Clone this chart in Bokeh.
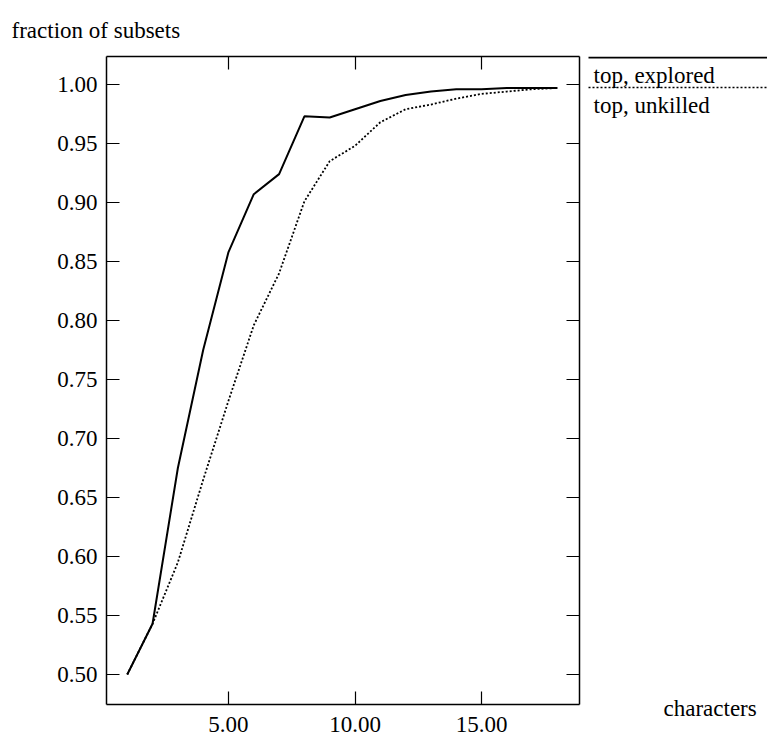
from bokeh.plotting import figure
from bokeh.models import (LinearAxis, FixedTicker, NumeralTickFormatter, Range1d,
                          Label)
from bokeh.core.properties import value
from bokeh.layouts import row
from bokeh.embed import file_html
from bokeh.resources import INLINE

# ---- data ----
characters = [1, 2, 3, 4, 5, 6, 7, 8, 9, 10, 11, 12, 13, 14, 15, 16, 17, 18]
top_explored = [0.500, 0.543, 0.675, 0.775, 0.858, 0.907, 0.924, 0.973, 0.972,
                0.979, 0.986, 0.991, 0.994, 0.996, 0.996, 0.997, 0.997, 0.997]
top_unkilled = [0.500, 0.543, 0.595, 0.665, 0.732, 0.796, 0.840, 0.901, 0.935,
                0.948, 0.968, 0.979, 0.983, 0.988, 0.992, 0.994, 0.996, 0.997]
x_ticks = [5, 10, 15]
y_ticks = [0.50, 0.55, 0.60, 0.65, 0.70, 0.75, 0.80, 0.85, 0.90, 0.95, 1.00]
series_labels = ["top, explored", "top, unkilled"]
x_title = "characters"
y_title = "fraction of subsets"

FONT = "Liberation Serif"
FS = "23px"
W, H = 767, 738
W1 = 585                     # main plot width (frame right edge at 579)
F_TOP, F_BOT = 56, 704       # frame top / bottom in page pixels

p = figure(width=W1, height=H, output_backend="svg", toolbar_location=None,
           x_axis_location=None, y_axis_location=None,
           x_range=Range1d(0.18, 18.87), y_range=Range1d(0.4746, 1.0237),
           min_border_left=106, min_border_right=W1 - 579,
           min_border_top=F_TOP, min_border_bottom=H - F_BOT)
p.grid.visible = False
p.outline_line_color = None
p.background_fill_color = "white"
p.border_fill_color = "white"


def make_axis(ticks, labels):
    ax = LinearAxis(ticker=FixedTicker(ticks=ticks),
                    formatter=NumeralTickFormatter(format="0.00"))
    ax.major_tick_in = 13
    ax.major_tick_out = 0
    ax.minor_tick_line_color = None
    ax.axis_line_color = "black"
    ax.axis_line_width = 1.5
    ax.major_tick_line_color = "black"
    ax.major_tick_line_width = 1.2
    ax.major_label_text_font = FONT
    if labels:
        ax.major_label_text_font_size = FS
        ax.major_label_text_color = "black"
    else:
        ax.major_label_text_font_size = "1px"
        ax.major_label_text_color = None
        ax.major_label_standoff = 0
    return ax


left = make_axis(y_ticks, True)
left.major_label_standoff = 9
bottom = make_axis(x_ticks, True)
bottom.major_label_standoff = 12
right = make_axis(y_ticks, False)
top = make_axis(x_ticks, False)
p.add_layout(left, "left")
p.add_layout(bottom, "below")
p.add_layout(right, "right")
p.add_layout(top, "above")

p.line(characters, top_explored, line_color="black", line_width=2)
p.line(characters, top_unkilled, line_color="black", line_width=1.8,
       line_dash="2 2")

# y-axis title (canvas units, top-left of the page)
p.add_layout(Label(x=11, y=30, x_units="canvas", y_units="canvas",
                   text=y_title, text_font=FONT, text_font_size=FS,
                   text_color="black", text_align="left",
                   text_baseline="alphabetic"), "above")

# ---- right-hand strip: legend and x-axis title ----
# its frame is aligned with the main frame (rows 56..704), so data y = page y
q = figure(width=W - W1, height=H, output_backend="svg", toolbar_location=None,
           x_axis_location=None, y_axis_location=None,
           x_range=Range1d(W1, W), y_range=Range1d(F_BOT, F_TOP),
           min_border_left=0, min_border_right=0,
           min_border_top=F_TOP, min_border_bottom=H - F_BOT)
q.grid.visible = False
q.outline_line_color = None
q.background_fill_color = "white"
q.border_fill_color = "white"

q.segment(x0=[588], y0=[57], x1=[W], y1=[57], line_color="black", line_width=2)
q.segment(x0=[588], y0=[87], x1=[W], y1=[87], line_color="black", line_width=1.5,
          line_dash="2 2")
q.text(x=[593, 593], y=[75, 105], text=series_labels,
       text_font=value(FONT), text_font_size=value(FS), text_color="black",
       text_align="left", text_baseline="alphabetic")
q.add_layout(Label(x=663 - W1, y=708, x_units="canvas", y_units="canvas",
                   text=x_title, text_font=FONT, text_font_size=FS,
                   text_color="black", text_align="left",
                   text_baseline="alphabetic"), "below")

layout = row(p, q, spacing=0)
open("out.html", "w").write(file_html(layout, INLINE))
